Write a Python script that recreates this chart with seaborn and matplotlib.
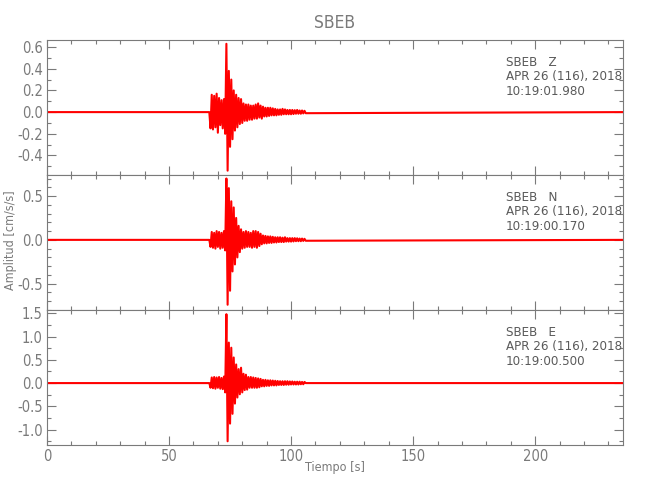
import numpy as np
import pandas as pd
import matplotlib
matplotlib.use('Agg')
import matplotlib.pyplot as plt
import seaborn as sns
from matplotlib.ticker import MultipleLocator, FormatStrFormatter

sns.set_style('white')
plt.rcParams['font.family'] = ['DejaVu Sans']
plt.rcParams['font.stretch'] = 'condensed'

t_start = 66.5
dt = 0.5
t_end = 236.0

# amplitudes (cm/s/s), una por muestra
z_vals = [0.0, -0.15, 0.16, -0.16, 0.15, -0.14, 0.17, -0.19, 0.13, -0.12,
          0.11, -0.15, 0.12, -0.2, 0.63, -0.54, 0.38, -0.32, 0.3, -0.25,
          0.2, -0.17, 0.16, -0.14, 0.13, -0.11, 0.12, -0.1, 0.08, -0.08,
          0.07, -0.08, 0.07, -0.07, 0.06, -0.07, 0.06, -0.06, 0.07, -0.06,
          0.08, -0.05, 0.06, -0.06, 0.05, -0.04, 0.04, -0.04, 0.04, -0.035,
          0.04, -0.03, 0.035, -0.03, 0.03, -0.03, 0.025, -0.025, 0.025, -0.025,
          0.03, -0.02, 0.025, -0.02, 0.02, -0.02, 0.02, -0.02, 0.02, -0.018,
          0.018, -0.015, 0.02, -0.015, 0.015, -0.015, 0.015, -0.012, 0.012, -0.01]
n_vals = [0.0, -0.08, 0.09, -0.09, 0.08, -0.1, 0.1, -0.08, 0.09, -0.1,
          0.08, -0.09, 0.1, -0.12, 0.70, -0.74, 0.59, -0.58, 0.44, -0.36,
          0.37, -0.28, 0.25, -0.2, 0.16, -0.14, 0.12, -0.1, 0.09, -0.09,
          0.1, -0.08, 0.09, -0.08, 0.08, -0.09, 0.1, -0.08, 0.1, -0.09,
          0.09, -0.07, 0.07, -0.05, 0.05, -0.04, 0.045, -0.04, 0.04, -0.035,
          0.04, -0.035, 0.035, -0.03, 0.03, -0.03, 0.03, -0.025, 0.03, -0.025,
          0.025, -0.025, 0.03, -0.02, 0.02, -0.02, 0.02, -0.02, 0.02, -0.018,
          0.02, -0.015, 0.018, -0.015, 0.015, -0.015, 0.015, -0.012, 0.012, -0.01]
e_vals = [0.0, -0.1, 0.12, -0.11, 0.13, -0.12, 0.12, -0.1, 0.13, -0.12,
          0.11, -0.13, 0.14, -0.2, 1.48, -1.25, 0.87, -0.87, 0.76, -0.66,
          0.55, -0.44, 0.4, -0.31, 0.3, -0.24, 0.33, -0.2, 0.2, -0.15,
          0.18, -0.14, 0.13, -0.1, 0.13, -0.1, 0.12, -0.1, 0.11, -0.1,
          0.1, -0.09, 0.09, -0.07, 0.07, -0.07, 0.07, -0.06, 0.06, -0.06,
          0.06, -0.05, 0.055, -0.05, 0.05, -0.05, 0.045, -0.04, 0.04, -0.04,
          0.04, -0.04, 0.04, -0.035, 0.04, -0.035, 0.035, -0.03, 0.035, -0.03,
          0.03, -0.03, 0.03, -0.03, 0.03, -0.025, 0.025, -0.025, 0.025, 0.0]

components = ['Z', 'N', 'E']
start_times = ['10:19:01.980', '10:19:00.170', '10:19:00.500']
date_label = 'APR 26 (116), 2018'
ylims = [(-0.58, 0.665), (-0.80, 0.74), (-1.33, 1.57)]
major_steps = [0.2, 0.5, 0.5]
minor_steps = [0.1, 0.1, 0.25]

gray = '#7a7a7a'
txt = '#5a5a5a'

fig = plt.figure(figsize=(6.5, 5), dpi=100)
bottoms = [0.65, 0.38, 0.11]

for i, vals in enumerate([z_vals, n_vals, e_vals]):
    t = t_start + dt * np.arange(len(vals))
    df = pd.DataFrame({'t': np.concatenate([[0.0], t, [t_end]]),
                       'a': np.concatenate([[0.0], vals, [0.0]])})
    ax = fig.add_axes([0.0723, bottoms[i], 0.8862, 0.27])
    sns.lineplot(data=df, x='t', y='a', ax=ax, color='red', lw=1.5,
                 estimator=None, sort=False)
    ax.set_xlim(0, t_end)
    ax.set_ylim(*ylims[i])
    ax.xaxis.set_major_locator(MultipleLocator(50))
    ax.xaxis.set_minor_locator(MultipleLocator(10))
    ax.yaxis.set_major_locator(MultipleLocator(major_steps[i]))
    ax.yaxis.set_minor_locator(MultipleLocator(minor_steps[i]))
    ax.yaxis.set_major_formatter(FormatStrFormatter('%.1f'))
    ax.tick_params(which='both', direction='in', top=True, right=True,
                   bottom=True, left=True, color=gray, labelcolor=gray,
                   labelsize=10.5, width=0.8)
    ax.tick_params(which='major', length=6.5, pad=3)
    ax.tick_params(which='minor', length=3)
    for s in ax.spines.values():
        s.set_color(gray)
        s.set_linewidth(0.8)
    ax.set_xlabel('')
    ax.set_ylabel('')
    if i < 2:
        ax.set_xticklabels([])
    ax.text(0.797, 0.885, f'SBEB   {components[i]}\n{date_label}\n{start_times[i]}',
            transform=ax.transAxes, ha='left', va='top', fontsize=9.5,
            color=txt, linespacing=1.15)

fig.text(0.515, 0.955, 'SBEB', ha='center', va='center', fontsize=12.5, color=gray)
fig.text(0.515, 0.064, 'Tiempo [s]', ha='center', va='center', fontsize=9, color=gray)
fig.text(0.016, 0.52, 'Amplitud [cm/s/s]', ha='center', va='center',
         rotation=90, fontsize=9, color=gray)

fig.savefig('out.png', dpi=100, facecolor='white')
